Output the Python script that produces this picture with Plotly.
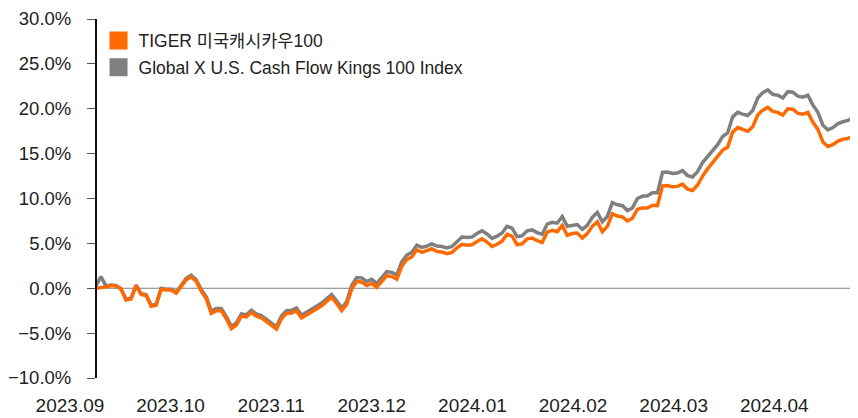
import plotly.graph_objects as go

# trading-day index (uniform spacing), Sep 2023 .. Apr 2024
tiger = [0, 0.05, 0.15, 0.3, 0.25, -0.1, -1.3, -1.2, 0.3, -0.7,
         -0.8, -2.0, -1.9, -0.1, -0.2, -0.2, -0.55, 0.2, 0.95, 1.25,
         0.75, -0.35, -1.15, -2.8, -2.5, -2.5, -3.4, -4.5, -4.1, -3.1,
         -3.2, -2.7, -3.1, -3.3, -3.7, -4.2, -4.55, -3.4, -2.8, -2.75,
         -2.5, -3.3, -3.0, -2.65, -2.3, -1.95, -1.5, -1.0, -1.7, -2.5,
         -1.8, -0.1, 0.75, 0.7, 0.3, 0.55, 0.1, 0.8, 1.4, 1.3,
         1.0, 2.45, 3.2, 3.5, 4.3, 4.0, 4.15, 4.4, 4.1, 4.05,
         3.85, 4.0, 4.5, 4.9, 4.8, 4.85, 5.2, 5.5, 5.15, 4.65,
         4.9, 5.25, 6.0, 5.8, 4.85, 4.95, 5.5, 5.6, 5.3, 5.1,
         6.25, 6.45, 6.3, 7.0, 5.9, 6.1, 6.15, 5.6, 6.1, 6.9,
         7.4, 6.3, 6.9, 8.3, 8.05, 7.95, 7.5, 7.8, 8.8, 8.95,
         8.95, 9.25, 9.2, 11.4, 11.45, 11.3, 11.35, 11.6, 11.05, 10.9,
         11.5, 12.5, 13.3, 14.0, 14.6, 15.4, 15.7, 17.4, 17.9, 17.7,
         17.5, 18.0, 19.3, 19.85, 20.15, 19.7, 19.6, 19.3, 20.0, 19.95,
         19.5, 19.4, 19.6, 18.5, 17.7, 16.3, 15.8, 16.0, 16.4, 16.6,
         16.7, 16.9, 16.4]

index = [0.3, 1.3, 0.25, 0.35, 0.3, -0.05, -1.25, -1.1, 0.35, -0.6,
         -0.7, -1.9, -1.8, 0.0, -0.1, -0.1, -0.45, 0.3, 1.1, 1.45,
         0.95, -0.15, -0.95, -2.55, -2.25, -2.25, -3.15, -4.25, -3.85, -2.85,
         -2.95, -2.45, -2.85, -3.05, -3.45, -3.95, -4.3, -3.1, -2.5, -2.45,
         -2.2, -3.0, -2.7, -2.35, -2.0, -1.65, -1.2, -0.7, -1.4, -2.2,
         -1.5, 0.3, 1.2, 1.15, 0.75, 1.0, 0.55, 1.25, 1.85, 1.75,
         1.5, 2.95, 3.7, 4.0, 4.8, 4.55, 4.7, 4.95, 4.7, 4.65,
         4.5, 4.65, 5.2, 5.7, 5.65, 5.7, 6.1, 6.4, 6.05, 5.55,
         5.8, 6.15, 6.9, 6.7, 5.75, 5.85, 6.4, 6.5, 6.2, 6.0,
         7.15, 7.35, 7.25, 8.0, 6.9, 7.05, 7.1, 6.55, 7.0, 7.9,
         8.45, 7.4, 8.0, 9.55, 9.3, 9.2, 8.65, 8.95, 10.0, 10.25,
         10.3, 10.65, 10.65, 12.9, 12.95, 12.8, 12.85, 13.1, 12.55, 12.4,
         13.0, 14.0, 14.7, 15.35, 16.0, 16.9, 17.3, 19.1, 19.6, 19.4,
         19.25, 19.8, 21.2, 21.8, 22.1, 21.6, 21.5, 21.2, 21.9, 21.85,
         21.4, 21.3, 21.5, 20.4, 19.6, 18.15, 17.65, 17.9, 18.35, 18.55,
         18.7, 19.0, 18.7]

days = list(range(len(tiger)))
month_labels = ["2023.09", "2023.10", "2023.11", "2023.12",
                "2024.01", "2024.02", "2024.03", "2024.04"]
month_pos = [-5.19, 14.88, 34.95, 55.02, 75.09, 95.16, 115.23, 135.3]

names = ["TIGER 미국캐시카우100", "Global X U.S. Cash Flow Kings 100 Index"]
ORANGE = "#FF6A00"
GRAY = "#7F7F7F"
FONT = "Liberation Sans, Arial, Noto Sans CJK KR, sans-serif"

fig = go.Figure()
fig.add_trace(go.Scatter(x=days, y=index, mode="lines", line=dict(color=GRAY, width=3.5),
                         showlegend=False, hoverinfo="skip"))
fig.add_trace(go.Scatter(x=days, y=tiger, mode="lines", line=dict(color=ORANGE, width=3.5),
                         showlegend=False, hoverinfo="skip"))
# legend entries (square swatches)
for nm, c, g in [(names[0], ORANGE, "a"), (names[1], GRAY, "b")]:
    fig.add_trace(go.Scatter(x=[None], y=[None], mode="markers", name=nm, legendgroup=g,
                             marker=dict(symbol="square", size=16, color=c,
                                         line=dict(color=c, width=2))))

fig.add_shape(type="line", xref="x", yref="y", x0=days[0], x1=days[-1], y0=0, y1=0,
              line=dict(color="#808080", width=1), layer="below")

fig.update_layout(
    width=850, height=410,
    margin=dict(l=0, r=0, t=8, b=40),
    paper_bgcolor="white", plot_bgcolor="white",
    font=dict(family=FONT, color="#222222"),
    legend=dict(x=0.1065, y=0.99, xanchor="left", yanchor="top",
                font=dict(size=17.5, family=FONT, color="#222222"),
                traceorder="grouped", tracegroupgap=1, bgcolor="rgba(0,0,0,0)"),
    xaxis=dict(range=[-17.55, 152], tickmode="array", tickvals=month_pos,
               ticktext=month_labels, showline=False, showgrid=False, zeroline=False,
               ticks="", tickfont=dict(size=19, family=FONT, color="#222222"),
               ticklabelstandoff=14, ticklabeloverflow="allow"),
    yaxis=dict(range=[-10, 30], dtick=5, tick0=0, tickformat=".1f", ticksuffix="%",
               anchor="free", position=88 / 850, showgrid=False, zeroline=False,
               showline=True, linecolor="#111111", linewidth=2,
               ticks="outside", ticklen=8, tickwidth=1, tickcolor="#555555",
               tickfont=dict(size=18.5, family=FONT, color="#222222"),
               ticklabelstandoff=12, ticklabeloverflow="allow"),
)

fig.write_html("out.html")
